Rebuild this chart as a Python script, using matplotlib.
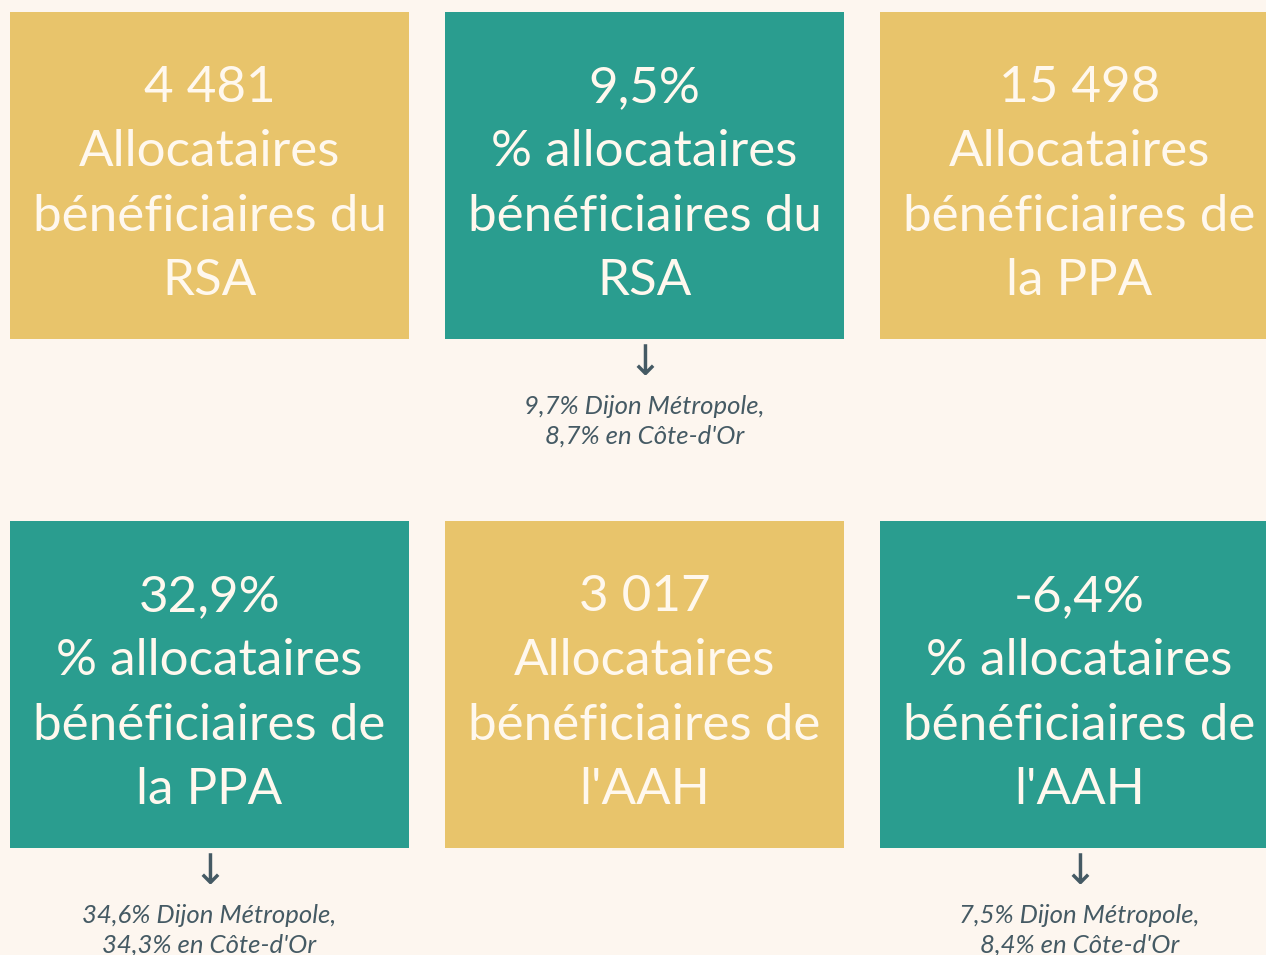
import matplotlib.pyplot as plt
from matplotlib.patches import Rectangle

# KPI tiles: value, label, colour, comparison note
values = ['4 481', '9,5%', '15 498', '32,9%', '3 017', '-6,4%']
labels = [
    'Allocataires\nbénéficiaires du\nRSA',
    '% allocataires\nbénéficiaires du\nRSA',
    'Allocataires\nbénéficiaires de\nla PPA',
    '% allocataires\nbénéficiaires de\nla PPA',
    'Allocataires\nbénéficiaires de\nl\'AAH',
    '% allocataires\nbénéficiaires de\nl\'AAH',
]
kinds = ['count', 'rate', 'count', 'rate', 'count', 'rate']
notes = [
    None,
    '9,7% Dijon Métropole,\n8,7% en Côte-d\'Or',
    None,
    '34,6% Dijon Métropole,\n34,3% en Côte-d\'Or',
    None,
    '7,5% Dijon Métropole,\n8,4% en Côte-d\'Or',
]

BG = '#fdf6ef'
TILE = {'count': '#e8c46b', 'rate': '#2a9d8f'}
TXT = '#fff8ee'
NOTE = '#455a64'

W, H = 1266, 955
fig = plt.figure(figsize=(W / 100, H / 100), dpi=100, facecolor=BG)
ax = fig.add_axes([0, 0, 1, 1])
ax.set_xlim(0, W)
ax.set_ylim(H, 0)
ax.axis('off')

tile_w, tile_h = 399, 327
for k, (val, lab, kind, note) in enumerate(zip(values, labels, kinds, notes)):
    col, row = k % 3, k // 3
    x0 = 10 + col * 435
    y0 = 12 + row * 509
    ax.add_patch(Rectangle((x0, y0), tile_w, tile_h, color=TILE[kind], lw=0))
    cx = x0 + tile_w / 2
    lines = [val] + lab.split('\n')
    for i, line in enumerate(lines):
        ax.text(cx, y0 + 76 + i * 64.3, line, ha='center', va='center',
                fontsize=36.8, color=TXT, family=['Lato', 'DejaVu Sans'])
    if note:
        ax.text(cx, y0 + tile_h + 24, '↓', ha='center', va='center',
                fontsize=30, color=NOTE, family=['DejaVu Sans'])
        for i, line in enumerate(note.split('\n')):
            ax.text(cx, y0 + tile_h + 67 + i * 30, line, ha='center',
                    va='center', fontsize=18.5, color=NOTE, style='italic',
                    family=['Lato', 'DejaVu Sans'])

fig.savefig('out.png', dpi=100, facecolor=BG)
